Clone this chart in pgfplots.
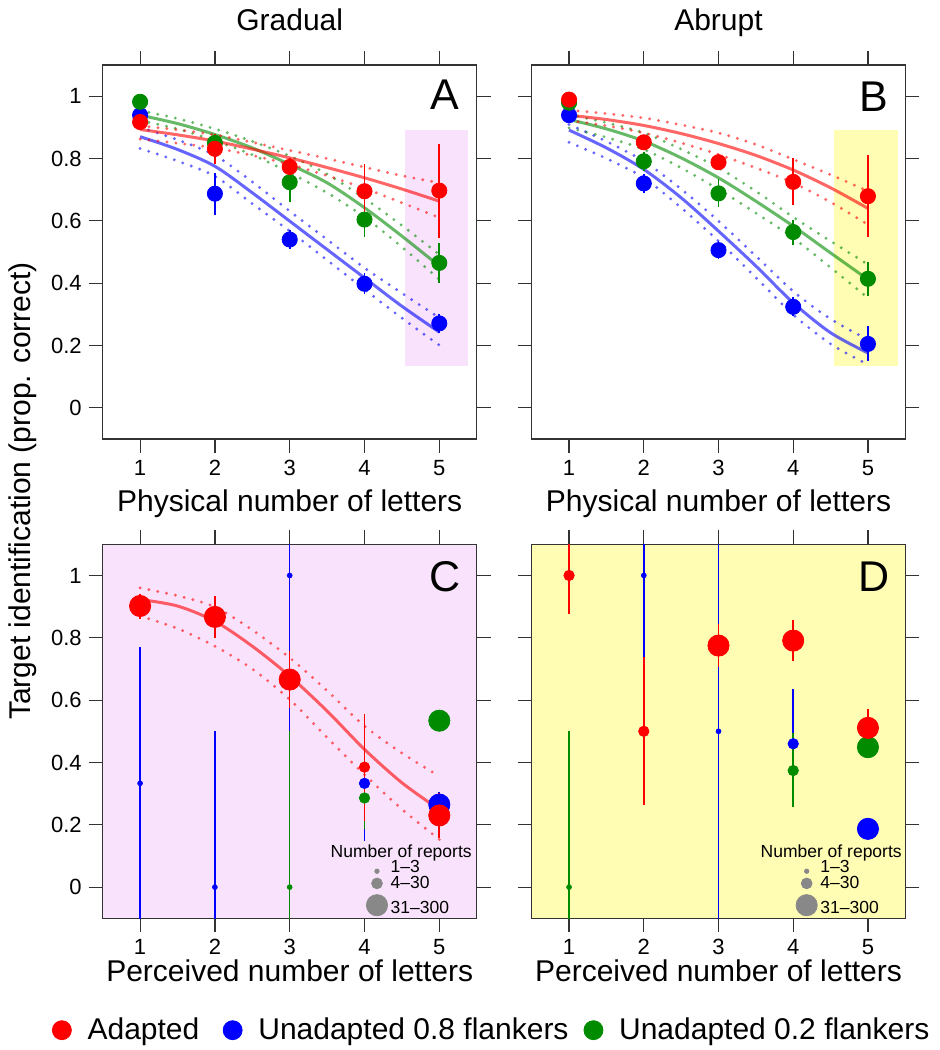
\documentclass[border=0pt]{standalone}
\usepackage{fontspec}
\setmainfont{Liberation Sans}
\usepackage{pgfplots}
\usepackage{pgfplotstable}
\pgfplotsset{compat=1.18}

\definecolor{rred}{RGB}{255,0,0}
\definecolor{rblue}{RGB}{0,0,255}
\definecolor{rgreen}{RGB}{0,139,0}
\definecolor{lav}{RGB}{249,227,252}
\definecolor{lyel}{RGB}{255,253,180}
\definecolor{legray}{RGB}{136,136,136}

% ---------- Panel A points ----------
\pgfplotstableread{
x y ep em
1 0.917 0.020 0.020
2 0.831 0.049 0.050
3 0.773 0.030 0.030
4 0.695 0.088 0.091
5 0.697 0.150 0.152
}\Ared
\pgfplotstableread{
x y ep em
1 0.939 0.020 0.020
2 0.687 0.067 0.069
3 0.540 0.030 0.030
4 0.398 0.034 0.034
5 0.271 0.030 0.030
}\Ablue
\pgfplotstableread{
x y ep em
1 0.982 0.010 0.010
2 0.850 0.030 0.030
3 0.724 0.065 0.064
4 0.604 0.060 0.056
5 0.465 0.064 0.064
}\Agreen
% ---------- Panel A fits: x fit upper lower ----------
\pgfplotstableread{
x f u l
1   0.893 0.905 0.862
1.5 0.876 0.892 0.849
2   0.856 0.876 0.834
2.5 0.830 0.852 0.810
3   0.802 0.826 0.781
3.5 0.771 0.800 0.745
4   0.738 0.772 0.704
4.5 0.702 0.745 0.658
5   0.663 0.722 0.610
}\AredFit
\pgfplotstableread{
x f u l
1   0.939 0.954 0.922
1.5 0.912 0.928 0.895
2   0.877 0.895 0.857
2.5 0.834 0.855 0.812
3   0.781 0.808 0.754
3.5 0.722 0.750 0.690
4   0.642 0.672 0.612
4.5 0.551 0.585 0.516
5   0.455 0.492 0.412
}\AgreenFit
\pgfplotstableread{
x f u l
1   0.870 0.900 0.832
1.5 0.829 0.860 0.792
2   0.775 0.810 0.743
2.5 0.690 0.725 0.655
3   0.599 0.631 0.567
3.5 0.508 0.540 0.474
4   0.417 0.449 0.380
4.5 0.326 0.368 0.288
5   0.243 0.289 0.201
}\AblueFit
% ---------- Panel B points ----------
\pgfplotstableread{
x y ep em
1 0.989 0.010 0.010
2 0.852 0.020 0.020
3 0.788 0.020 0.020
4 0.725 0.075 0.075
5 0.679 0.132 0.130
}\Bred
\pgfplotstableread{
x y ep em
1 0.939 0.020 0.020
2 0.720 0.030 0.030
3 0.506 0.030 0.030
4 0.324 0.030 0.030
5 0.205 0.057 0.055
}\Bblue
\pgfplotstableread{
x y ep em
1 0.979 0.010 0.010
2 0.791 0.030 0.030
3 0.688 0.045 0.043
4 0.564 0.040 0.040
5 0.414 0.053 0.054
}\Bgreen
% ---------- Panel B fits ----------
\pgfplotstableread{
x f u l
1   0.939 0.955 0.922
1.5 0.925 0.944 0.905
2   0.906 0.930 0.882
2.5 0.880 0.908 0.850
3   0.848 0.882 0.813
3.5 0.810 0.845 0.770
4   0.763 0.797 0.722
4.5 0.706 0.748 0.660
5   0.640 0.695 0.588
}\BredFit
\pgfplotstableread{
x f u l
1   0.925 0.941 0.898
1.5 0.895 0.915 0.868
2   0.856 0.882 0.829
2.5 0.802 0.830 0.770
3   0.738 0.770 0.701
3.5 0.663 0.695 0.625
4   0.583 0.612 0.545
4.5 0.497 0.535 0.450
5   0.412 0.460 0.353
}\BgreenFit
\pgfplotstableread{
x f u l
1   0.891 0.909 0.852
1.5 0.834 0.855 0.800
2   0.765 0.791 0.738
2.5 0.674 0.702 0.642
3   0.567 0.599 0.535
3.5 0.455 0.487 0.418
4   0.337 0.374 0.299
4.5 0.241 0.285 0.205
5   0.176 0.219 0.139
}\BblueFit
% ---------- Panel C (s = marker radius in pt) ----------
\pgfplotstableread{
x y ep em s
1 0.902 0.040 0.043 5.3
2 0.867 0.067 0.067 5.3
3 0.666 0.091 0.091 5.3
4 0.385 0.172 0.173 2.6
5 0.230 0.073 0.072 5.3
}\Cred
\pgfplotstableread{
x y ep em s
1 0.333 0.438 0.600 1.2
2 0.000 0.500 0.300 1.2
3 1.000 0.300 0.500 1.2
4 0.333 0.190 0.185 2.6
5 0.265 0.040 0.040 5.3
}\Cblue
\pgfplotstableread{
x y ep em s
3 0.000 0.500 0.300 1.2
4 0.286 0.160 0.101 2.6
5 0.534 0.030 0.030 5.3
}\Cgreen
\pgfplotstableread{
x f u l
1   0.923 0.960 0.870
1.5 0.902 0.935 0.830
2   0.853 0.899 0.773
2.5 0.773 0.825 0.700
3   0.677 0.736 0.602
3.5 0.565 0.630 0.480
4   0.442 0.517 0.361
4.5 0.335 0.430 0.250
5   0.249 0.356 0.153
}\CredFit
% ---------- Panel D ----------
\pgfplotstableread{
x y ep em s
1 1.000 0.300 0.125 2.6
2 0.500 0.239 0.238 2.6
3 0.775 0.070 0.069 5.3
4 0.791 0.066 0.064 5.3
5 0.511 0.059 0.059 5.3
}\Dred
\pgfplotstableread{
x y ep em s
2 1.000 0.300 0.261 1.2
3 0.500 0.700 0.700 1.2
4 0.460 0.177 0.170 2.6
5 0.187 0.030 0.030 5.3
}\Dblue
\pgfplotstableread{
x y ep em s
1 0.000 0.500 0.300 1.2
4 0.374 0.121 0.117 2.6
5 0.449 0.030 0.030 5.3
}\Dgreen

\tikzset{
  lbl/.style={font=\fontsize{21.5}{24}\selectfont},
  sz/.style={font=\fontsize{8.75}{10}\selectfont, inner sep=0pt},
}
\pgfplotsset{
  panel/.style={
    scale only axis, height=187pt,
    xmin=0.5, xmax=5.5, ymin=-0.1, ymax=1.1,
    xtick={1,2,3,4,5}, ytick={0,0.2,0.4,0.6,0.8,1},
    tick align=outside, tick pos=both,
    major tick length=7pt,
    axis line style={draw=black!80, line width=0.6pt},
    every tick/.style={draw=black!80, line width=0.6pt},
    tick label style={font=\fontsize{11}{13}\selectfont, text=black},
    /pgf/number format/assume math mode=true,
    label style={font=\fontsize{15}{18}\selectfont},
    title style={font=\fontsize{15}{18}\selectfont, at={(axis description cs:0.5,1)}, anchor=base, yshift=11.3pt},
    anchor=south west,
  },
  fitln/.style={line width=1.5pt, opacity=0.6, no markers, smooth},
  ciln/.style={line width=1.6pt, opacity=0.6, no markers, smooth, dash pattern=on 0pt off 4.5pt, line cap=round},
  pts/.style={only marks, mark=*, mark size=3.8pt, #1,
    error bars/.cd, y dir=both, y explicit, error mark=none,
    error bar style={line width=0.9pt, #1}},
  spts/.style={only marks, mark=*, #1, scatter,
    scatter/use mapped color={draw=#1, fill=#1},
    visualization depends on={\thisrow{s} \as \msz},
    scatter/@pre marker code/.append style={/tikz/mark size=\msz pt},
    error bars/.cd, y dir=both, y explicit, error mark=none,
    error bar style={line width=0.8pt, #1}},
}

\begin{document}
\begin{tikzpicture}
\useasboundingbox (0,0) rectangle (469.5pt,525pt);

% ===================== A =====================
\begin{axis}[panel, width=187pt, at={(51.35pt,305.5pt)},
  title={Gradual}, xlabel={Physical number of letters},
  xlabel style={at={(axis description cs:0.5,-0.194)}, anchor=base}]
\addplot[draw=none, fill=lav, forget plot] coordinates {(4.536,0.134) (5.384,0.134) (5.384,0.892) (4.536,0.892)} -- cycle;
\addplot[fitln, rblue] table[x=x,y=f] {\AblueFit};
\addplot[ciln, rblue] table[x=x,y=u] {\AblueFit};
\addplot[ciln, rblue] table[x=x,y=l] {\AblueFit};
\addplot[fitln, rgreen] table[x=x,y=f] {\AgreenFit};
\addplot[ciln, rgreen] table[x=x,y=u] {\AgreenFit};
\addplot[ciln, rgreen] table[x=x,y=l] {\AgreenFit};
\addplot[fitln, rred] table[x=x,y=f] {\AredFit};
\addplot[ciln, rred] table[x=x,y=u] {\AredFit};
\addplot[ciln, rred] table[x=x,y=l] {\AredFit};
\addplot[pts=rblue] table[x=x,y=y,y error plus=ep,y error minus=em] {\Ablue};
\addplot[pts=rgreen] table[x=x,y=y,y error plus=ep,y error minus=em] {\Agreen};
\addplot[pts=rred] table[x=x,y=y,y error plus=ep,y error minus=em] {\Ared};
\node[lbl] at (rel axis cs:0.915,0.921) {A};
\end{axis}

% ===================== B =====================
\begin{axis}[panel, width=186.8pt, at={(265.85pt,305.5pt)}, yticklabels={,,,,,,},
  title={Abrupt}, xlabel={Physical number of letters},
  xlabel style={at={(axis description cs:0.5,-0.194)}, anchor=base}]
\addplot[draw=none, fill=lyel, forget plot] coordinates {(4.549,0.134) (5.397,0.134) (5.397,0.892) (4.549,0.892)} -- cycle;
\addplot[fitln, rblue] table[x=x,y=f] {\BblueFit};
\addplot[ciln, rblue] table[x=x,y=u] {\BblueFit};
\addplot[ciln, rblue] table[x=x,y=l] {\BblueFit};
\addplot[fitln, rgreen] table[x=x,y=f] {\BgreenFit};
\addplot[ciln, rgreen] table[x=x,y=u] {\BgreenFit};
\addplot[ciln, rgreen] table[x=x,y=l] {\BgreenFit};
\addplot[fitln, rred] table[x=x,y=f] {\BredFit};
\addplot[ciln, rred] table[x=x,y=u] {\BredFit};
\addplot[ciln, rred] table[x=x,y=l] {\BredFit};
\addplot[pts=rblue] table[x=x,y=y,y error plus=ep,y error minus=em] {\Bblue};
\addplot[pts=rgreen] table[x=x,y=y,y error plus=ep,y error minus=em] {\Bgreen};
\addplot[pts=rred] table[x=x,y=y,y error plus=ep,y error minus=em] {\Bred};
\node[lbl] at (rel axis cs:0.916,0.915) {B};
\end{axis}

% ===================== C =====================
\begin{axis}[panel, width=187pt, at={(51.35pt,65.85pt)},
  axis background/.style={fill=lav},
  xlabel={Perceived number of letters},
  xlabel style={at={(axis description cs:0.5,-0.170)}, anchor=base},
  legend columns=3,
  legend style={draw=none, fill=none, inner sep=0pt, outer sep=0pt,
    font=\fontsize{15}{18}\selectfont,
    nodes={inner sep=0pt},
    at={(-0.1356,-0.2992)}, anchor=west,
    /tikz/every odd column/.append style={column sep=7.9pt},
    /tikz/column 2/.append style={column sep=11.7pt},
    /tikz/column 4/.append style={column sep=7.5pt}}]
\addlegendimage{legend image code/.code={\fill[rred] (4.75pt,0pt) circle (4.75pt);}}
\addlegendentry{Adapted}
\addlegendimage{legend image code/.code={\fill[rblue] (4.75pt,0pt) circle (4.75pt);}}
\addlegendentry{Unadapted 0.8 flankers}
\addlegendimage{legend image code/.code={\fill[rgreen] (4.75pt,0pt) circle (4.75pt);}}
\addlegendentry{Unadapted 0.2 flankers}
\addplot[fitln, rred] table[x=x,y=f] {\CredFit};
\addplot[ciln, rred] table[x=x,y=u] {\CredFit};
\addplot[ciln, rred] table[x=x,y=l] {\CredFit};
\addplot[spts=rblue] table[x=x,y=y,y error plus=ep,y error minus=em] {\Cblue};
\addplot[spts=rgreen] table[x=x,y=y,y error plus=ep,y error minus=em] {\Cgreen};
\addplot[spts=rred] table[x=x,y=y,y error plus=ep,y error minus=em] {\Cred};
\addplot[only marks, mark=*, legray, mark size=1.1pt] coordinates {(4.167,0.051)};
\addplot[only marks, mark=*, legray, mark size=2.7pt] coordinates {(4.167,0.012)};
\addplot[only marks, mark=*, legray, mark size=5.3pt] coordinates {(4.167,-0.058)};
\node[sz, anchor=base] at (axis cs:4.490,0.096) {Number of reports};
\node[sz, anchor=base west] at (axis cs:4.344,0.046) {1–3};
\node[sz, anchor=base west] at (axis cs:4.344,-0.004) {4–30};
\node[sz, anchor=base west] at (axis cs:4.344,-0.084) {31–300};
\node[lbl] at (rel axis cs:0.915,0.913) {C};
\end{axis}

% ===================== D =====================
\begin{axis}[panel, width=186.8pt, at={(265.85pt,65.85pt)}, yticklabels={,,,,,,},
  axis background/.style={fill=lyel},
  xlabel={Perceived number of letters},
  xlabel style={at={(axis description cs:0.5,-0.170)}, anchor=base}]
\addplot[spts=rblue] table[x=x,y=y,y error plus=ep,y error minus=em] {\Dblue};
\addplot[spts=rgreen] table[x=x,y=y,y error plus=ep,y error minus=em] {\Dgreen};
\addplot[spts=rred] table[x=x,y=y,y error plus=ep,y error minus=em] {\Dred};
\addplot[only marks, mark=*, legray, mark size=1.1pt] coordinates {(4.180,0.051)};
\addplot[only marks, mark=*, legray, mark size=2.7pt] coordinates {(4.180,0.012)};
\addplot[only marks, mark=*, legray, mark size=5.3pt] coordinates {(4.180,-0.058)};
\node[sz, anchor=base] at (axis cs:4.508,0.096) {Number of reports};
\node[sz, anchor=base west] at (axis cs:4.358,0.046) {1–3};
\node[sz, anchor=base west] at (axis cs:4.358,-0.004) {4–30};
\node[sz, anchor=base west] at (axis cs:4.358,-0.084) {31–300};
\node[lbl] at (rel axis cs:0.916,0.913) {D};
\end{axis}

\node[rotate=90, font=\fontsize{15}{18}\selectfont] at (11.5pt,279.5pt) {Target identification (prop. correct)};
\end{tikzpicture}
\end{document}
